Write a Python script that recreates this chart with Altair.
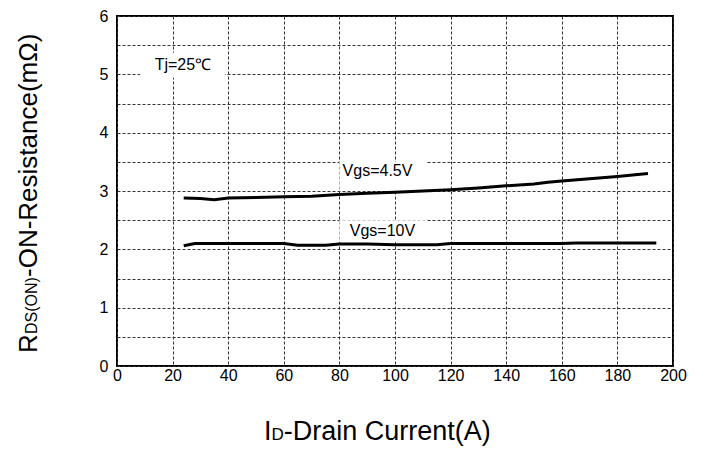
import altair as alt
import pandas as pd

# ---- data ----
ids_45 = [24, 30, 35, 40, 50, 60, 70, 80, 90, 100, 110, 120, 130, 140, 150, 155, 160, 170, 180, 191]
rds_45 = [2.88, 2.87, 2.85, 2.88, 2.89, 2.90, 2.91, 2.94, 2.96, 2.98, 3.00, 3.02, 3.05, 3.09, 3.12, 3.15, 3.17, 3.21, 3.25, 3.30]

ids_10 = [24, 28, 40, 60, 65, 75, 80, 90, 100, 115, 120, 140, 160, 165, 180, 194]
rds_10 = [2.06, 2.10, 2.10, 2.10, 2.07, 2.07, 2.09, 2.09, 2.08, 2.08, 2.10, 2.10, 2.10, 2.11, 2.11, 2.11]

x_ticks = [0, 20, 40, 60, 80, 100, 120, 140, 160, 180, 200]
y_ticks = [0, 0.5, 1, 1.5, 2, 2.5, 3, 3.5, 4, 4.5, 5, 5.5, 6]

label_text = ["Tj=25\u2103", "Vgs=4.5V", "Vgs=10V"]
label_x = [23.7, 93.7, 95.5]
label_y = [5.16, 3.34, 2.31]
box_x1 = [8.3, 80, 80]
box_x2 = [38.8, 111.3, 111.3]
box_y1 = [4.94, 3.02, 2.12]
box_y2 = [5.37, 3.5, 2.5]

FONT = "Liberation Sans"

lines_df = pd.DataFrame(
    {"series": ["4.5V"] * len(ids_45) + ["10V"] * len(ids_10),
     "x": ids_45 + ids_10,
     "y": rds_45 + rds_10}
)
labels_df = pd.DataFrame({"t": label_text, "x": label_x, "y": label_y})
boxes_df = pd.DataFrame({"x1": box_x1, "x2": box_x2, "y1": box_y1, "y2": box_y2})

xscale = alt.Scale(domain=[0, 200], nice=False, zero=False)
yscale = alt.Scale(domain=[0, 6], nice=False, zero=False)

xaxis = alt.Axis(values=x_ticks, title=None, ticks=False, tickSize=0, domain=False,
                 labelFont=FONT, labelFontSize=16, labelColor="black", labelPadding=1,
                 labelFlush=False, labelOverlap=False,
                 grid=True, gridColor="#333", gridDash=[3, 2], gridWidth=1)
yaxis = alt.Axis(values=y_ticks, title=None, ticks=False, tickSize=0, domain=False,
                 labelFont=FONT, labelFontSize=16, labelColor="black", labelPadding=9,
                 labelFlush=False, labelOverlap=False,
                 labelExpr="datum.value % 1 == 0 ? format(datum.value, 'd') : ''",
                 grid=True, gridColor="#333", gridDash=[3, 2], gridWidth=1)

boxes = alt.Chart(boxes_df).mark_rect(color="white").encode(
    x=alt.X("x1:Q", scale=xscale, axis=xaxis),
    x2="x2:Q",
    y=alt.Y("y1:Q", scale=yscale, axis=yaxis),
    y2="y2:Q",
)

lines = alt.Chart(lines_df).mark_line(color="black", strokeWidth=3).encode(
    x=alt.X("x:Q", scale=xscale, axis=xaxis),
    y=alt.Y("y:Q", scale=yscale, axis=yaxis),
    detail="series:N",
)

labels = alt.Chart(labels_df).mark_text(
    font=FONT, fontSize=16, color="black", align="center", baseline="middle"
).encode(
    x=alt.X("x:Q", scale=xscale, axis=xaxis),
    y=alt.Y("y:Q", scale=yscale, axis=yaxis),
    text="t:N",
)

one = pd.DataFrame({"a": [0]})


def piece(txt, size, px, py, angle=0):
    kw = dict(text=txt, font=FONT, fontSize=size, color="black",
              align="left", baseline="alphabetic")
    if angle:
        kw["angle"] = angle
    return alt.Chart(one).mark_text(**kw).encode(x=alt.value(px), y=alt.value(py))


ytitle = [
    piece("R", 26, -80, 337, 270),
    piece("DS(ON)", 16, -80, 318, 270),
    piece("-ON-Resistance(m\u03a9)", 26, -80, 261, 270),
]
xtitle = [
    piece("I", 27, 147, 424),
    piece("D", 17, 154.5, 424),
    piece("-Drain Current(A)", 27, 166.8, 424),
]

chart = alt.layer(boxes, lines, labels, *ytitle, *xtitle).properties(
    width=556,
    height=350,
    autosize=alt.AutoSizeParams(type="none"),
    padding={"left": 109, "top": 8, "right": 20, "bottom": 80},
).configure_view(stroke="black", strokeWidth=2)

chart.save("out.html", embed_options={"renderer": "svg", "actions": False})
